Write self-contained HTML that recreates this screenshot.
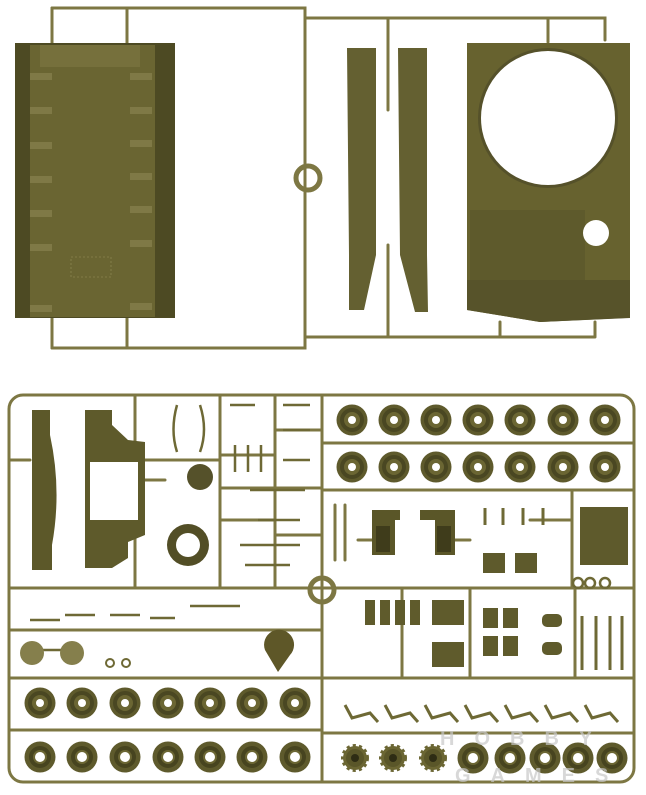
<!DOCTYPE html>
<html><head><meta charset="utf-8"><style>
html,body{margin:0;padding:0;background:#fff;width:646px;height:795px;overflow:hidden}
svg{display:block}
</style></head><body>
<svg width="646" height="795" viewBox="0 0 646 795" xmlns="http://www.w3.org/2000/svg">
<defs>
<g id="wh"><circle r="15.5" fill="#5e5a2c"/><circle r="12" fill="#4a4722"/><circle r="8" fill="#6b6633"/><circle r="4" fill="#fff"/></g>
<g id="wh2"><circle r="15.5" fill="#5e5a2c"/><circle r="11" fill="#47441f"/><circle r="7" fill="#6b6633"/><circle r="5" fill="#fff"/></g>
<g id="spr"><circle r="12" fill="#6b6633" stroke="#6b6633" stroke-width="4" stroke-dasharray="3 3"/><circle r="9" fill="#5a5629"/><circle r="4" fill="#2e2c14"/></g>
</defs>
<g fill="none" stroke="#7d7743" stroke-width="3" stroke-linecap="round">
<!-- top sprue -->
<path d="M52 8 H305 V348 H52"/>
<path d="M52 8 V45 M127 8 V45 M52 318 V348 M127 318 V348"/>
<path d="M305 18 H605 V40 M388 18 V110 M388 245 V337 M305 337 H595 M548 18 V42 M595 322 V337 M500 322 V337"/>
<!-- bottom sprue frame -->
<rect x="9" y="395" width="625" height="387" rx="14"/>
<path d="M135 395 V588 M220 395 V588 M275 395 V588 M322 395 V782"/>
<path d="M9 588 H634 M9 630 H322 M9 678 H634 M9 730 H322 M322 733 H634"/>
<path d="M322 443 H634 M322 490 H634 M572 490 V588 M470 588 V678 M575 588 V678 M402 588 V678"/>
<path d="M9 460 H30 M135 460 H220 M220 455 H275 M220 488 H322 M275 535 H322 M220 520 H275 M275 430 H322 M135 480 H165"/>
<path d="M335 505 V560 M345 505 V560 M358 540 H372 M455 540 H470 M530 520 H572"/>
</g>
<!-- ring top -->
<circle cx="308" cy="178" r="12" fill="none" stroke="#7d7743" stroke-width="5"/>
<circle cx="322" cy="590" r="12" fill="none" stroke="#7d7743" stroke-width="5"/>
<!-- hull plate -->
<rect x="15" y="43" width="160" height="275" fill="#4d4a23"/>
<rect x="30" y="45" width="125" height="272" fill="#6a6532"/>
<rect x="40" y="45" width="100" height="22" fill="#76703c"/>
<g fill="#7f7946">
<rect x="30" y="73" width="22" height="7"/><rect x="30" y="107" width="22" height="7"/><rect x="30" y="142" width="22" height="7"/><rect x="30" y="176" width="22" height="7"/><rect x="30" y="210" width="22" height="7"/><rect x="30" y="244" width="22" height="7"/><rect x="30" y="305" width="22" height="7"/>
<rect x="130" y="73" width="22" height="7"/><rect x="130" y="107" width="22" height="7"/><rect x="130" y="140" width="22" height="7"/><rect x="130" y="173" width="22" height="7"/><rect x="130" y="206" width="22" height="7"/><rect x="130" y="240" width="22" height="7"/><rect x="130" y="303" width="22" height="7"/>
</g>
<rect x="71" y="257" width="40" height="20" fill="none" stroke="#8a844f" stroke-width="0.8" stroke-dasharray="2 2"/>
<!-- strips -->
<path d="M347 48 H376 V255 L364 310 H349 V255 Z" fill="#646031"/>
<path d="M398 48 H427 V255 L428 312 H415 L400 255 Z" fill="#646031"/>
<!-- turret part -->
<path d="M467 43 H630 V300 L625 318 L540 322 L467 310 Z" fill="#67622f"/>
<path d="M467 280 H630 V318 L540 322 L467 310 Z" fill="#57532a"/>
<rect x="470" y="210" width="115" height="70" fill="#5e5a2c"/>
<circle cx="548" cy="118" r="70" fill="#55512a"/>
<circle cx="548" cy="118" r="67" fill="#fff"/>
<circle cx="596" cy="233" r="13" fill="#fff"/>
<rect x="560" y="320" width="0" height="0"/>
<!-- bottom-left parts -->
<path d="M32 410 H50 V435 Q62 490 52 545 V570 H32 Z" fill="#5c5829"/>
<path d="M85 410 H112 V425 L128 440 L145 442 V535 L128 542 V558 L112 568 H85 Z" fill="#5e5a2b"/>
<rect x="90" y="462" width="48" height="58" fill="#fff"/>
<circle cx="200" cy="477" r="13" fill="#55512a"/>
<circle cx="188" cy="545" r="21" fill="#524e26"/>
<circle cx="188" cy="545" r="12" fill="#fff"/>
<!-- small bits in left grid -->
<g stroke="#6e6935" stroke-width="2.5" fill="none">
<path d="M177 405 Q170 430 177 452 M200 405 Q208 430 200 452"/>
<path d="M230 405 H255 M235 445 V472 M248 445 V472 M261 445 V472"/>
<path d="M283 405 H310 M283 430 H310 M283 460 H310 M250 490 H305 M258 520 H300 M240 545 H300 M245 565 H290"/>
<path d="M30 620 H60 M65 615 H95 M110 615 H140 M150 618 H175 M190 606 H240 M40 650 H70"/>
</g>
<circle cx="32" cy="653" r="12" fill="#857f4c"/><circle cx="72" cy="653" r="12" fill="#857f4c"/>
<path d="M265 650 A15 15 0 1 1 290 655 L278 672 Z" fill="#5e5728"/>
<circle cx="110" cy="663" r="4" fill="none" stroke="#6e6935" stroke-width="2"/><circle cx="126" cy="663" r="4" fill="none" stroke="#6e6935" stroke-width="2"/>
<!-- wheels -->
<g>
<use href="#wh" x="352" y="420"/><use href="#wh" x="394" y="420"/><use href="#wh" x="436" y="420"/><use href="#wh" x="478" y="420"/><use href="#wh" x="520" y="420"/><use href="#wh" x="563" y="420"/><use href="#wh" x="605" y="420"/>
<use href="#wh" x="352" y="467"/><use href="#wh" x="394" y="467"/><use href="#wh" x="436" y="467"/><use href="#wh" x="478" y="467"/><use href="#wh" x="520" y="467"/><use href="#wh" x="563" y="467"/><use href="#wh" x="605" y="467"/>
<use href="#wh" x="40" y="703"/><use href="#wh" x="82" y="703"/><use href="#wh" x="125" y="703"/><use href="#wh" x="168" y="703"/><use href="#wh" x="210" y="703"/><use href="#wh" x="252" y="703"/><use href="#wh" x="295" y="703"/>
<use href="#wh2" x="40" y="757"/><use href="#wh2" x="82" y="757"/><use href="#wh2" x="125" y="757"/><use href="#wh2" x="168" y="757"/><use href="#wh2" x="210" y="757"/><use href="#wh2" x="252" y="757"/><use href="#wh2" x="295" y="757"/>
</g>
<!-- right middle parts -->
<path d="M372 510 H400 V520 H395 V555 H372 Z" fill="#5a5628"/>
<path d="M420 510 H455 V555 H435 V520 H420 Z" fill="#5a5628"/>
<rect x="376" y="526" width="14" height="26" fill="#3f3c1b"/><rect x="437" y="526" width="14" height="26" fill="#3f3c1b"/>
<g stroke="#6e6935" stroke-width="3"><path d="M485 508 V525 M503 508 V525 M523 508 V525 M543 508 V525"/></g>
<rect x="483" y="553" width="22" height="20" fill="#5e5a2c"/><rect x="515" y="553" width="22" height="20" fill="#5e5a2c"/>
<path d="M580 507 H628 V565 H580 Z" fill="#5e5a2c"/>
<circle cx="578" cy="583" r="5" fill="none" stroke="#6e6935" stroke-width="2.5"/><circle cx="590" cy="583" r="5" fill="none" stroke="#6e6935" stroke-width="2.5"/><circle cx="605" cy="583" r="5" fill="none" stroke="#6e6935" stroke-width="2.5"/>
<!-- lower right -->
<g fill="#5f5b2c">
<rect x="365" y="600" width="10" height="25"/><rect x="380" y="600" width="10" height="25"/><rect x="395" y="600" width="10" height="25"/><rect x="410" y="600" width="10" height="25"/>
<rect x="432" y="600" width="32" height="25"/><rect x="432" y="642" width="32" height="25"/>
<rect x="483" y="608" width="15" height="20"/><rect x="503" y="608" width="15" height="20"/><rect x="483" y="636" width="15" height="20"/><rect x="503" y="636" width="15" height="20"/>
<rect x="542" y="614" width="20" height="13" rx="5"/><rect x="542" y="642" width="20" height="13" rx="5"/>
</g>
<g stroke="#6e6935" stroke-width="3"><path d="M582 616 V670 M596 616 V670 M610 616 V670 M622 616 V670"/></g>
<g stroke="#6e6935" stroke-width="3" fill="none">
<path d="M345 705 L352 718 L370 713 L378 722 M385 705 L392 718 L410 713 L418 722 M425 705 L432 718 L450 713 L458 722 M465 705 L472 718 L490 713 L498 722 M505 705 L512 718 L530 713 L538 722 M545 705 L552 718 L570 713 L578 722 M585 705 L592 718 L610 713 L618 722"/>
</g>
<use href="#spr" x="355" y="758"/><use href="#spr" x="393" y="758"/><use href="#spr" x="433" y="758"/>
<use href="#wh2" x="473" y="758"/><use href="#wh2" x="510" y="758"/><use href="#wh2" x="545" y="758"/><use href="#wh2" x="578" y="758"/><use href="#wh2" x="612" y="758"/>
<text x="440" y="745" font-family="Liberation Sans, sans-serif" font-weight="bold" font-size="20" fill="#c8c8c8" opacity="0.7" letter-spacing="20">HOBBY</text>
<text x="455" y="782" font-family="Liberation Sans, sans-serif" font-weight="bold" font-size="20" fill="#c8c8c8" opacity="0.7" letter-spacing="20">GAMES</text>
</svg>
</body></html>
